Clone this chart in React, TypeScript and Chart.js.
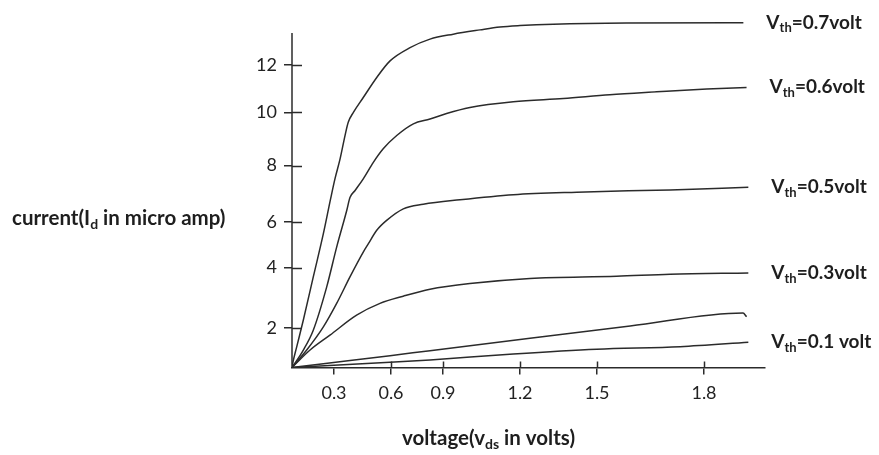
import React, { useEffect, useRef } from 'react';
import { Chart, registerables, LinearScale } from 'chart.js';

Chart.register(...registerables);

// ---------------- data (vds in volts, Id in micro amp) ----------------
const vth07X = [0, 0.005, 0.034, 0.081, 0.152, 0.224, 0.276, 0.305, 0.332, 0.358, 0.375, 0.402, 0.454, 0.525, 0.595, 0.71, 0.825, 0.94, 1.044, 1.122, 1.2, 1.33, 1.583, 1.911];
const vth07Y = [0, 0.21, 1.05, 2.26, 3.69, 5.49, 6.83, 7.53, 8.25, 9.13, 9.63, 10.0, 10.63, 11.48, 12.18, 12.74, 13.1, 13.31, 13.49, 13.61, 13.67, 13.73, 13.78, 13.79];

const vth06X = [0, 0.081, 0.152, 0.248, 0.314, 0.367, 0.384, 0.411, 0.454, 0.507, 0.559, 0.633, 0.729, 0.825, 0.914, 1.005, 1.174, 1.369, 1.536, 1.667, 1.808, 1.92];
const vth06Y = [0, 0.88, 1.88, 3.36, 4.9, 6.41, 6.87, 7.12, 7.53, 8.12, 8.63, 9.13, 9.57, 9.75, 9.96, 10.21, 10.45, 10.59, 10.75, 10.87, 10.99, 11.06];

const vth05X = [0, 0.105, 0.224, 0.314, 0.384, 0.454, 0.481, 0.525, 0.577, 0.671, 0.786, 0.966, 1.174, 1.421, 1.705, 1.925];
const vth05Y = [0, 0.88, 2.03, 2.81, 3.69, 4.68, 5.05, 5.64, 6.06, 6.47, 6.63, 6.79, 6.97, 7.06, 7.14, 7.23];

const vth03X = [0, 0.129, 0.271, 0.419, 0.542, 0.671, 0.825, 1.005, 1.239, 1.555, 1.705, 1.925];
const vth03Y = [0, 0.88, 1.63, 2.42, 2.81, 3.05, 3.28, 3.47, 3.64, 3.71, 3.78, 3.82];

const vth02X = [0, 0.224, 0.595, 0.825, 1.239, 1.593, 1.91, 1.92];
const vth02Y = [0, 0.19, 0.59, 0.85, 1.48, 2.06, 2.49, 2.37];

const vth01X = [0, 0.595, 0.825, 1.174, 1.499, 1.733, 1.925];
const vth01Y = [0, 0.26, 0.38, 0.68, 0.92, 1.05, 1.27];

const seriesLabels = ['Vth=0.7volt', 'Vth=0.6volt', 'Vth=0.5volt', 'Vth=0.3volt', '', 'Vth=0.1 volt'];

const xTickValues = [0.3, 0.6, 0.9, 1.2, 1.5, 1.8];
const yTickValues = [2, 4, 6, 8, 10, 12];

const xTitleParts = [{ t: 'voltage(v' }, { t: 'ds', sub: true }, { t: ' in volts)' }];
const yTitleParts = [{ t: 'current(I' }, { t: 'd', sub: true }, { t: ' in micro amp)' }];

// ---------------- hand-drawn axis calibration (value -> fraction of axis) ----------------
const KNOTS: Record<string, { v: number[]; f: number[] }> = {
  x: {
    v: [0, 0.3, 0.6, 0.9, 1.2, 1.5, 1.8, 1.972],
    f: [0, 42, 99, 151, 228, 305, 412, 473].map((p) => p / 473),
  },
  y: {
    v: [0, 2, 4, 6, 8, 10, 12, 14],
    f: [0, 39.8, 100.2, 145.8, 202.5, 255.8, 303.2, 350.7].map((p) => p / 350.7),
  },
};
const Y_AXIS_TOP = 13.36;

function interp(t: number, xs: number[], ys: number[]) {
  let i = 0;
  while (i < xs.length - 2 && t > xs[i + 1]) i++;
  const x0 = xs[i], x1 = xs[i + 1];
  return ys[i] + ((t - x0) / (x1 - x0)) * (ys[i + 1] - ys[i]);
}

class KnotScale extends LinearScale {
  static id = 'knot';
  static defaults = LinearScale.defaults;
  getPixelForValue(value: any) {
    if (value === null || value === undefined || isNaN(value)) return NaN;
    const k = KNOTS[(this as any).id];
    return (this as any).getPixelForDecimal(interp(+value, k.v, k.f));
  }
  getValueForPixel(pixel: number) {
    const k = KNOTS[(this as any).id];
    return interp((this as any).getDecimalForPixel(pixel), k.f, k.v);
  }
}
Chart.register(KnotScale as any);

const INK = '#2b2b2b';
const FONT = 'Lato, "Open Sans", sans-serif';

function drawRich(ctx: CanvasRenderingContext2D, parts: { t: string; sub?: boolean }[], x: number, baseline: number, size: number) {
  let cx = x;
  ctx.textAlign = 'left';
  ctx.textBaseline = 'alphabetic';
  for (const p of parts) {
    const s = p.sub ? Math.round(size * 0.7) : size;
    ctx.font = `bold ${s}px ${FONT}`;
    ctx.fillText(p.t, cx, baseline + (p.sub ? size * 0.2 : 0));
    cx += ctx.measureText(p.t).width;
  }
}

const decorPlugin = {
  id: 'decor',
  afterDraw(chart: any) {
    const ctx = chart.ctx as CanvasRenderingContext2D;
    const ys = chart.scales.y;
    const xs = chart.scales.x;
    const area = chart.chartArea;
    ctx.save();
    ctx.strokeStyle = INK;
    ctx.lineWidth = 1.5;
    // y axis line
    ctx.beginPath();
    ctx.moveTo(area.left, ys.getPixelForValue(Y_AXIS_TOP));
    ctx.lineTo(area.left, area.bottom);
    ctx.stroke();
    // inward tick stubs
    for (const v of yTickValues) {
      const py = Math.round(ys.getPixelForValue(v)) + 0.5;
      ctx.beginPath();
      ctx.moveTo(area.left, py);
      ctx.lineTo(area.left + 10, py);
      ctx.stroke();
    }
    for (const v of xTickValues.slice(1)) {
      const px = Math.round(xs.getPixelForValue(v)) + 0.5;
      ctx.beginPath();
      ctx.moveTo(px, area.bottom);
      ctx.lineTo(px, area.bottom - 6);
      ctx.stroke();
    }
    // curve labels
    ctx.fillStyle = '#1e1e1e';
    chart.data.datasets.forEach((ds: any, i: number) => {
      const label = seriesLabels[i];
      if (!label) return;
      const meta = chart.getDatasetMeta(i);
      const last = meta.data[meta.data.length - 1];
      const size = 19;
      drawRich(ctx, [{ t: label.slice(0, 1) }, { t: label.slice(1, 3), sub: true }, { t: label.slice(3) }], last.x + 23, last.y - 1 + size * 0.36, size);
    });
    // axis titles
    drawRich(ctx, yTitleParts, 12, 225, 20.5);
    drawRich(ctx, xTitleParts, 402, 445, 20.5);
    ctx.restore();
  },
};

function pts(xs: number[], ys: number[]) {
  return xs.map((x, i) => ({ x, y: ys[i] }));
}

export default function App() {
  const ref = useRef<HTMLCanvasElement | null>(null);
  useEffect(() => {
    if (!ref.current) return;
    const series = [
      pts(vth07X, vth07Y),
      pts(vth06X, vth06Y),
      pts(vth05X, vth05Y),
      pts(vth03X, vth03Y),
      pts(vth02X, vth02Y),
      pts(vth01X, vth01Y),
    ];
    const chart = new Chart(ref.current, {
      type: 'line',
      data: {
        datasets: series.map((d, i) => ({
          label: seriesLabels[i] || 'Vth',
          data: d,
          borderColor: INK,
          borderWidth: 1.5,
          pointRadius: 0,
          fill: false,
          cubicInterpolationMode: 'monotone' as const,
        })),
      },
      options: {
        animation: false,
        responsive: true,
        maintainAspectRatio: false,
        layout: { autoPadding: false, padding: { left: 0, top: 16.8, right: 114, bottom: 0 } },
        plugins: { legend: { display: false }, tooltip: { enabled: false }, title: { display: false } },
        scales: {
          x: {
            type: 'knot' as any,
            min: 0,
            max: 1.972,
            afterFit: (s: any) => { s.height = 87.5; },
            afterBuildTicks: (s: any) => { s.ticks = xTickValues.map((v) => ({ value: v })); },
            border: { display: true, color: INK, width: 1.5 },
            grid: { display: true, drawOnChartArea: false, drawTicks: true, tickLength: 7, color: INK, lineWidth: 1.5 },
            ticks: {
              autoSkip: false,
              maxRotation: 0,
              padding: 8,
              color: '#222',
              font: { family: FONT, size: 18 },
              callback: (v: any) => Number(v).toFixed(1),
            },
          },
          y: {
            type: 'knot' as any,
            min: 0,
            max: 14,
            afterFit: (s: any) => { s.width = 292; },
            afterBuildTicks: (s: any) => { s.ticks = yTickValues.map((v) => ({ value: v })); },
            border: { display: false },
            grid: { display: true, drawOnChartArea: false, drawTicks: true, tickLength: 8, color: INK, lineWidth: 1.5 },
            ticks: {
              autoSkip: false,
              padding: 7,
              color: '#222',
              font: { family: FONT, size: 18 },
              callback: (v: any) => String(v),
            },
          },
        },
      },
      plugins: [decorPlugin],
    } as any);
    return () => chart.destroy();
  }, []);
  return (
    <div style={{ position: 'fixed', left: 0, top: 0, width: 879, height: 455, background: '#fff' }}>
      <canvas ref={ref} />
    </div>
  );
}
